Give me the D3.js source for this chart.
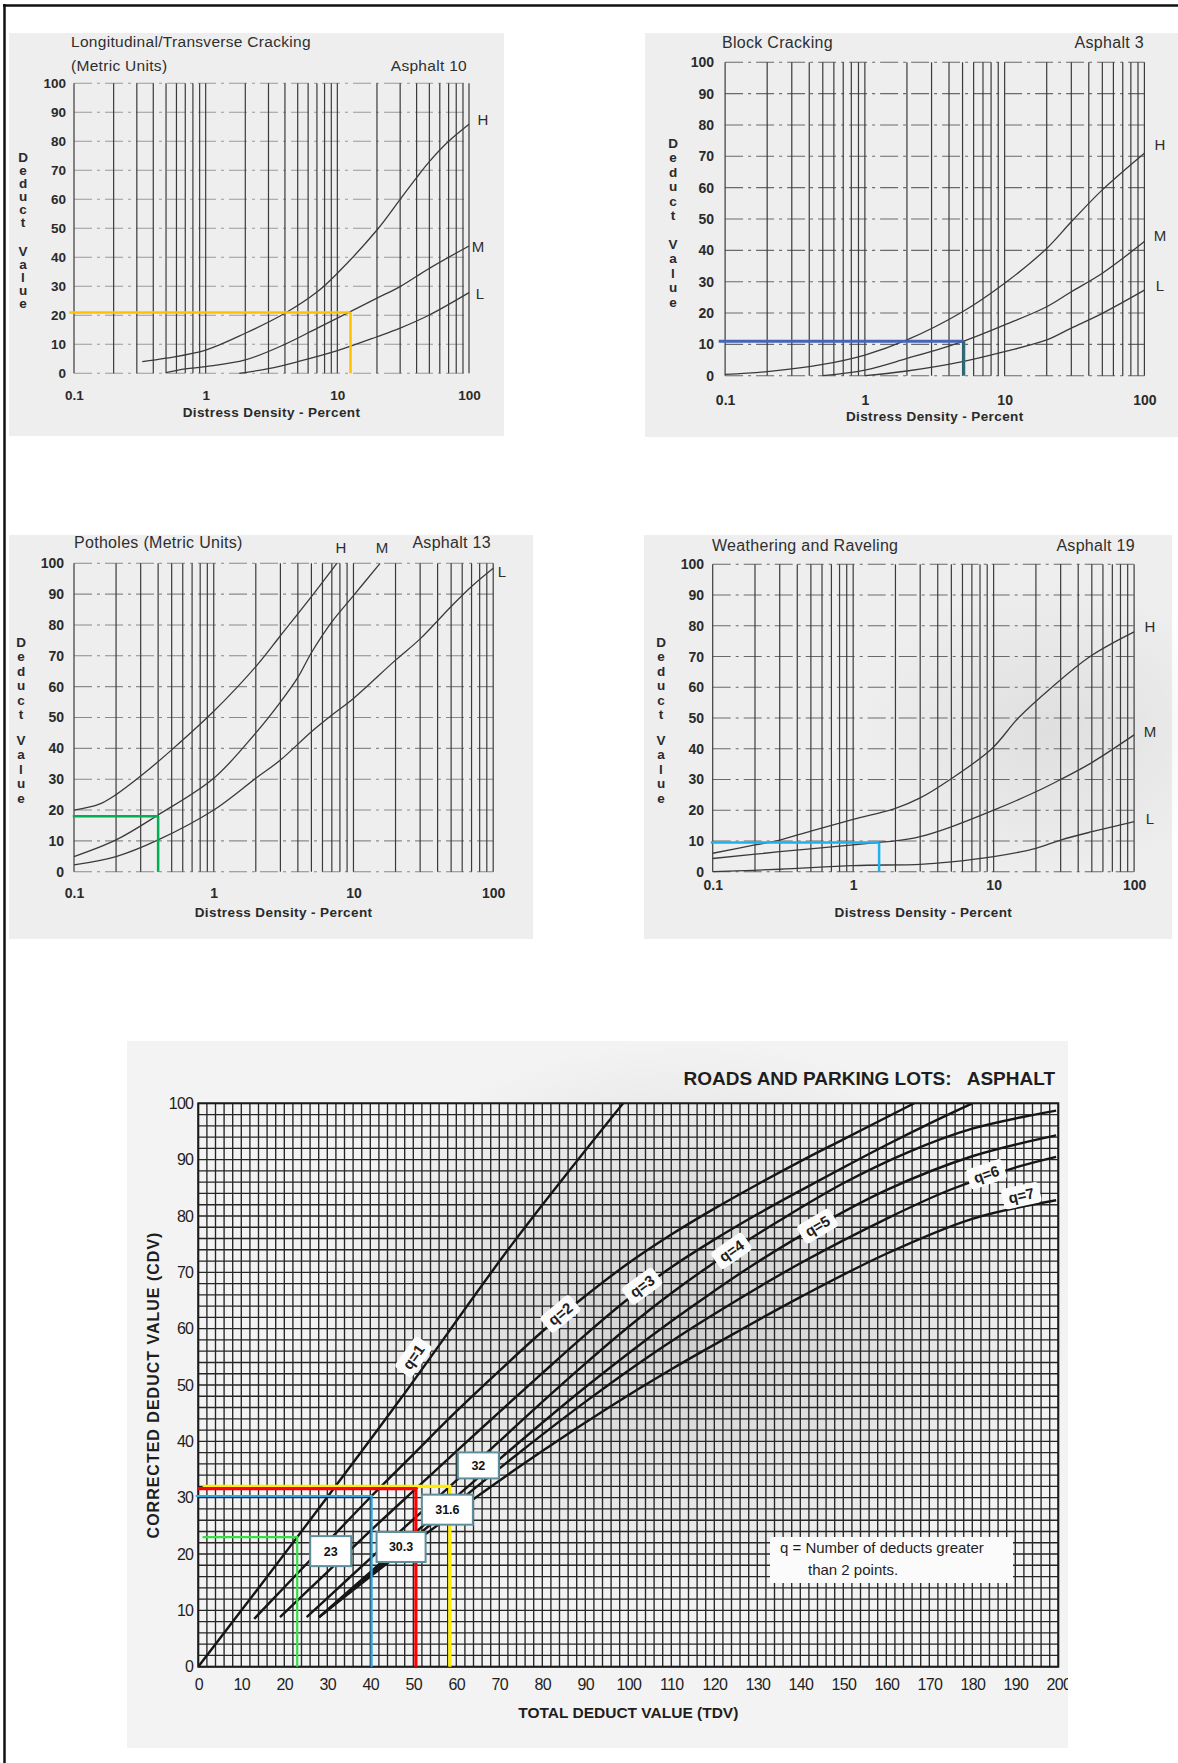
<!DOCTYPE html>
<html>
<head>
<meta charset="utf-8">
<script src="https://cdn.jsdelivr.net/npm/d3@7"></script>
<style>
  html, body { margin: 0; padding: 0; background: #fff; }
  svg { display: block; }
  text { font-family: "Liberation Sans", Arial, Helvetica, sans-serif; }
</style>
</head>
<body>
<svg id="page" width="1178" height="1763"></svg>
<script>
// ---------- shared axis values ----------
const densityTicks = [0.1, 1, 10, 100];
const densityGrid = [0.1,0.2,0.3,0.4,0.5,0.6,0.7,0.8,0.9,1,2,3,4,5,6,7,8,9,10,20,30,40,50,60,70,80,90,100];
const deductTicks = [0,10,20,30,40,50,60,70,80,90,100];

// ---------- Longitudinal/Transverse Cracking (Asphalt 10) ----------
const ltcHigh = [[0.33,4],[0.5,5.2],[1,8],[2,13.8],[4,20.7],[7,28],[10,34.5],[20,49.4],[30,60],[40,67.5],[50,73],[70,80],[100,85.9]];
const ltcMed  = [[0.5,0.2],[0.7,1.5],[1,2.3],[2,4.6],[4,10],[7,15.5],[10,19],[20,25.9],[30,29.9],[50,36.2],[100,43.9]];
const ltcLow  = [[1.8,0],[3,1.6],[5,4],[10,7.8],[20,12.6],[30,15.6],[50,20.1],[100,27.8]];
const ltcReading = [12.6, 21];     // density %, deduct value

// ---------- Block Cracking (Asphalt 3) ----------
const blkHigh = [[0.1,0.4],[0.2,1.3],[0.5,3.6],[1,6.6],[2,11.4],[5,20.4],[10,29.5],[20,40.6],[30,49.1],[50,59.3],[100,71]];
const blkMed  = [[0.5,0],[1,1.8],[2,5.5],[5,10.9],[10,16.2],[20,22],[30,26.8],[50,32.7],[100,42.8]];
const blkLow  = [[1,0],[2,1.5],[5,4.5],[10,7.7],[20,11.4],[30,15.2],[50,19.9],[100,27.3]];
const blkReading = [5.1, 11];

// ---------- Potholes (Asphalt 13) ----------
const potHigh = [[0.1,20],[0.15,21.8],[0.2,25],[0.3,31],[0.5,39.5],[1,52],[2,66.5],[3,76.5],[5,89.2],[7.6,100]];
const potMed  = [[0.1,4.9],[0.2,10.3],[0.4,18.4],[1,30.3],[2,45],[3,55],[4,63],[5,71],[7,81],[10,89.5],[15.5,100]];
const potLow  = [[0.1,2.2],[0.2,4.9],[0.4,10.3],[1,20],[2,30.3],[3,36.2],[5,45.4],[7,50.8],[10,56.2],[20,68.6],[30,75.5],[50,86],[70,92.5],[100,98.4]];
const potReading = [0.4, 18];

// ---------- Weathering and Raveling (Asphalt 19) ----------
const wrHigh = [[0.1,6],[0.2,8.7],[0.3,10.3],[0.5,13.2],[1,17],[2,20.6],[3,24],[4.9,30],[9.7,40],[15,50],[26,60],[48.6,70],[100,78]];
const wrMed  = [[0.1,4.3],[0.3,6.5],[1,8.7],[1.5,9.5],[2,10],[3,11.4],[5,14.6],[10,20],[20,26],[30,30],[50,35.5],[100,44.5]];
const wrLow  = [[0.1,0],[0.3,0.8],[1,2],[3,2.4],[5,3.2],[10,4.9],[20,7.6],[30,10.3],[50,13],[100,16.3]];
const wrReading = [1.53, 9.5];

// ---------- Corrected deduct value curves (roads and parking lots: asphalt) ----------
const tdvTicks = [0,10,20,30,40,50,60,70,80,90,100,110,120,130,140,150,160,170,180,190,200];
const cdvTicks = [0,10,20,30,40,50,60,70,80,90,100];
const cdvQ1 = [[0,0],[23,23],[47,47.5],[73,75],[98.8,100]];
const cdvQ2 = [[13,8.5],[20,14.1],[30,22.1],[40.3,30.3],[50,37.7],[60,45.3],[70,52.5],[80,59.5],[90,65.8],[100,71.6],[110,76.7],[120,81.3],[130,85.6],[140,89.7],[150,93.6],[166.5,100]];
const cdvQ3 = [[19,8.8],[30,16.8],[40,24.1],[50.6,31.6],[60,38.2],[70,45.2],[80,52.1],[90,58.9],[100,65.3],[110,70.9],[120,75.8],[130,80.3],[140,84.5],[150,88.6],[160,92.6],[170,96.4],[180,100]];
const cdvQ4 = [[25.2,8.8],[35,15.7],[45,22.7],[58.5,32],[70,40],[80,47],[90,53.8],[100,60.3],[110,66.3],[124,73.8],[135,79.1],[150,85.8],[165,91.3],[180,95.5],[199.5,98.7]];
const cdvQ5 = [[28.1,8.8],[40,16.8],[50,23.5],[60,30.2],[70,36.8],[80,43.3],[90,49.6],[100,55.6],[110,61.3],[120,66.7],[130,71.8],[144,78.2],[160,84.6],[180,90.6],[199.5,94.3]];
const cdvQ6 = [[28.1,8.8],[40,16.4],[50,22.7],[60,29],[75,38.2],[90,47],[105,55.2],[120,62.6],[140,71.6],[160,79.5],[175,84.7],[190,88.6],[199.5,90.5]];
const cdvQ7 = [[28.1,8.8],[40,16],[50,21.9],[65,30.3],[80,38.3],[95,45.8],[110,52.8],[125,59.3],[140,65.6],[160,73.3],[180,79.5],[199.5,82.8]];
const qNames = ["q=1","q=2","q=3","q=4","q=5","q=6","q=7"];
const qLabelTdv = [52.7, 84.5, 103.5, 124, 144, 183.5, 192];

// iteration readings: total deduct value -> corrected deduct value
const iterTdv = [58.5, 50.6, 40.3, 23];
const iterCdv = [32, 31.6, 30.3, 23];

// ---------- drawing ----------
const svg = d3.select("#page");
const defs = svg.append("defs");
svg.append("rect").attr("width", 1178).attr("height", 1763).attr("fill", "#ffffff");

// page frame (top and left rules)
svg.append("line").attr("x1", 3).attr("x2", 1178).attr("y1", 5.5).attr("y2", 5.5)
  .attr("stroke", "#111").attr("stroke-width", 2.5);
svg.append("line").attr("x1", 4.5).attr("x2", 4.5).attr("y1", 4).attr("y2", 1763)
  .attr("stroke", "#111").attr("stroke-width", 2.5);

function addShade(id, opacity) {
  const gr = defs.append("radialGradient").attr("id", id);
  gr.append("stop").attr("offset", "0").attr("stop-color", "#8f8f8f").attr("stop-opacity", opacity);
  gr.append("stop").attr("offset", "1").attr("stop-color", "#8f8f8f").attr("stop-opacity", 0);
}
addShade("panelShade", 0.16);
addShade("chartShade", 0.36);

const panels = [
  {
    bg: [9, 33, 495, 403], x0: 74, x1: 469, y0: 83.3, y1: 373.3,
    tickRight: 66, xTickY: 395, xTitle: "Distress Density - Percent", xTitleY: 412,
    tickSize: 13.5, titleSize: 15.5, hColor: "#9a9a9a",
    titles: [
      { t: "Longitudinal/Transverse Cracking", x: 71, y: 42, a: "start" },
      { t: "(Metric Units)", x: 71, y: 66, a: "start" },
      { t: "Asphalt 10", x: 467, y: 66, a: "end" }
    ],
    letters: { x: 23, top: 157, bottom: 303, step: 13 },
    curves: [ltcHigh, ltcMed, ltcLow],
    curveLabels: [{ t: "H", x: 483, y: 120 }, { t: "M", x: 478, y: 247 }, { t: "L", x: 480, y: 294 }],
    reading: ltcReading, hStart: 0.092, hColor2: "#ffc000", vColor: "#ffc000", lw: 2.5
  },
  {
    bg: [645, 33, 533, 404], x0: 725.1, x1: 1144.4, y0: 62.3, y1: 375.7,
    tickRight: 714, xTickY: 400, xTitle: "Distress Density  - Percent", xTitleY: 416,
    tickSize: 14, titleSize: 16, hColor: "#6a6a6a",
    titles: [
      { t: "Block Cracking", x: 722, y: 42, a: "start" },
      { t: "Asphalt 3", x: 1144, y: 42, a: "end" }
    ],
    letters: { x: 673, top: 143, bottom: 302, step: 14.5 },
    curves: [blkHigh, blkMed, blkLow],
    curveLabels: [{ t: "H", x: 1160, y: 145 }, { t: "M", x: 1160, y: 236 }, { t: "L", x: 1160, y: 286 }],
    reading: blkReading, hStart: 0.09, hColor2: "#4565bd", vColor: "#2b6c78", lw: 3
  },
  {
    bg: [9, 535, 524, 404], x0: 74, x1: 493.2, y0: 563.3, y1: 871.7,
    tickRight: 64, xTickY: 893, xTitle: "Distress Density - Percent", xTitleY: 912,
    tickSize: 14, titleSize: 16, hColor: "#8a8a8a",
    titles: [
      { t: "Potholes (Metric Units)", x: 74, y: 542, a: "start" },
      { t: "Asphalt 13", x: 491, y: 542, a: "end" }
    ],
    letters: { x: 21, top: 642, bottom: 798, step: 14.5 },
    curves: [potHigh, potMed, potLow],
    curveLabels: [{ t: "H", x: 341, y: 548 }, { t: "M", x: 382, y: 548 }, { t: "L", x: 502, y: 572 }],
    reading: potReading, hStart: 0.098, hColor2: "#00b050", vColor: "#00b050", lw: 2.5
  },
  {
    bg: [644, 535, 528, 404], x0: 712.7, x1: 1134.1, y0: 564.3, y1: 871.7,
    tickRight: 704, xTickY: 885, xTitle: "Distress Density - Percent", xTitleY: 912,
    tickSize: 14, titleSize: 16, hColor: "#6a6a6a",
    titles: [
      { t: "Weathering and Raveling", x: 712, y: 545, a: "start" },
      { t: "Asphalt 19", x: 1135, y: 545, a: "end" }
    ],
    letters: { x: 661, top: 642, bottom: 798, step: 14.5 },
    curves: [wrHigh, wrMed, wrLow],
    curveLabels: [{ t: "H", x: 1150, y: 627 }, { t: "M", x: 1150, y: 732 }, { t: "L", x: 1150, y: 819 }],
    reading: wrReading, hStart: 0.097, hColor2: "#1fb0ee", vColor: "#1fb0ee", lw: 2.5,
    shadeAt: [1050, 730, 190, 150]
  }
];

function drawLogPanel(p) {
  const g = svg.append("g");
  g.append("rect").attr("x", p.bg[0]).attr("y", p.bg[1]).attr("width", p.bg[2]).attr("height", p.bg[3])
    .attr("fill", "#eeeeee");
  if (p.shadeAt) {
    g.append("ellipse").attr("cx", p.shadeAt[0]).attr("cy", p.shadeAt[1])
      .attr("rx", p.shadeAt[2]).attr("ry", p.shadeAt[3]).attr("fill", "url(#panelShade)");
  }
  const x = d3.scaleLog().domain([0.1, 100]).range([p.x0, p.x1]);
  const y = d3.scaleLinear().domain([0, 100]).range([p.y1, p.y0]);

  // dash-dot deduct gridlines
  g.append("g").selectAll("line").data(deductTicks).join("line")
    .attr("x1", p.x0).attr("x2", p.x1).attr("y1", d => y(d)).attr("y2", d => y(d))
    .attr("stroke", p.hColor).attr("stroke-width", 1.1).attr("stroke-dasharray", "18 5 3 5");
  // log density gridlines
  g.append("g").selectAll("line").data(densityGrid).join("line")
    .attr("x1", d => x(d)).attr("x2", d => x(d)).attr("y1", p.y0).attr("y2", p.y1)
    .attr("stroke", "#3b3b3b").attr("stroke-width", 1.2);

  // axes
  const yAxis = g.append("g").attr("transform", `translate(${p.tickRight},0)`)
    .call(d3.axisLeft(y).tickValues(deductTicks).tickSize(0).tickPadding(0));
  yAxis.select(".domain").remove();
  yAxis.selectAll("text").attr("font-size", p.tickSize).attr("font-weight", "bold")
    .attr("fill", "#2a2a2a").attr("font-family", "Liberation Sans, Arial, sans-serif");

  const xAxis = g.append("g").attr("transform", `translate(0,${p.xTickY - p.tickSize * 0.36})`)
    .call(d3.axisBottom(x).tickValues(densityTicks).tickFormat(d => String(d)).tickSize(0).tickPadding(0));
  xAxis.select(".domain").remove();
  xAxis.selectAll("text").attr("font-size", p.tickSize).attr("font-weight", "bold")
    .attr("fill", "#2a2a2a").attr("font-family", "Liberation Sans, Arial, sans-serif");

  g.append("text").attr("x", (p.x0 + p.x1) / 2).attr("y", p.xTitleY).attr("dy", "0.35em")
    .attr("text-anchor", "middle").attr("font-size", 13.5).attr("font-weight", "bold")
    .attr("letter-spacing", 0.4).attr("fill", "#2a2a2a").text(p.xTitle);

  // stacked "Deduct Value" letters
  const L = p.letters;
  const stack = "Deduct".split("").map((c, i) => ({ c, y: L.top + i * L.step }))
    .concat("Value".split("").map((c, i) => ({ c, y: L.bottom - (4 - i) * L.step })));
  g.append("g").selectAll("text").data(stack).join("text")
    .attr("x", L.x).attr("y", d => d.y).attr("dy", "0.35em").attr("text-anchor", "middle")
    .attr("font-size", 13.5).attr("font-weight", "bold").attr("fill", "#2a2a2a").text(d => d.c);

  // titles
  g.append("g").selectAll("text").data(p.titles).join("text")
    .attr("x", d => d.x).attr("y", d => d.y).attr("dy", "0.35em").attr("text-anchor", d => d.a)
    .attr("font-size", p.titleSize).attr("letter-spacing", 0.3).attr("fill", "#2e2e2e").text(d => d.t);

  // severity curves
  const line = d3.line().x(d => x(d[0])).y(d => y(d[1])).curve(d3.curveCatmullRom.alpha(0.5));
  g.append("g").selectAll("path").data(p.curves).join("path")
    .attr("d", line).attr("fill", "none").attr("stroke", "#3a3a3a").attr("stroke-width", 1.3);
  g.append("g").selectAll("text").data(p.curveLabels).join("text")
    .attr("x", d => d.x).attr("y", d => d.y).attr("dy", "0.35em").attr("text-anchor", "middle")
    .attr("font-size", 15).attr("fill", "#2e2e2e").text(d => d.t);

  // deduct reading
  const seg = d3.line().x(d => x(d[0])).y(d => y(d[1]));
  const [rx, ry] = p.reading;
  g.append("path").attr("d", seg([[p.hStart, ry], [rx, ry]]))
    .attr("stroke", p.hColor2).attr("stroke-width", p.lw).attr("fill", "none");
  g.append("path").attr("d", seg([[rx, ry], [rx, 0]]))
    .attr("stroke", p.vColor).attr("stroke-width", p.lw).attr("fill", "none");
}
panels.forEach(drawLogPanel);

// ---------- CDV chart ----------
const cdv = svg.append("g");
defs.append("clipPath").attr("id", "cdvClip").append("rect")
  .attr("x", 127).attr("y", 1041).attr("width", 941).attr("height", 707);
const cdvPanel = cdv.append("g").attr("clip-path", "url(#cdvClip)");
cdvPanel.append("rect").attr("x", 127).attr("y", 1041).attr("width", 941).attr("height", 707).attr("fill", "#f3f3f3");
cdvPanel.append("ellipse").attr("cx", 690).attr("cy", 1320).attr("rx", 380).attr("ry", 280).attr("fill", "url(#chartShade)");

const bx = d3.scaleLinear().domain([0, 200]).range([198.3, 1058.3]);
const by = d3.scaleLinear().domain([0, 100]).range([1666.7, 1103.3]);

cdvPanel.append("g").selectAll("line").data(d3.range(0, 101, 2)).join("line")
  .attr("x1", bx(0)).attr("x2", bx(200)).attr("y1", d => by(d)).attr("y2", d => by(d))
  .attr("stroke", "#262626").attr("stroke-width", 1.35);
cdvPanel.append("g").selectAll("line").data(d3.range(0, 201, 2)).join("line")
  .attr("x1", d => bx(d)).attr("x2", d => bx(d)).attr("y1", by(0)).attr("y2", by(100))
  .attr("stroke", "#262626").attr("stroke-width", 1.35);
cdvPanel.append("rect").attr("x", bx(0)).attr("y", by(100)).attr("width", bx(200) - bx(0))
  .attr("height", by(0) - by(100)).attr("fill", "none").attr("stroke", "#1a1a1a").attr("stroke-width", 2);

const cdvY = cdvPanel.append("g").attr("transform", `translate(${bx(0) - 5},0)`)
  .call(d3.axisLeft(by).tickValues(cdvTicks).tickSize(0).tickPadding(0));
cdvY.select(".domain").remove();
cdvY.selectAll("text").attr("font-size", 16).attr("fill", "#1e1e1e")
  .attr("font-family", "Liberation Sans, Arial, sans-serif").attr("letter-spacing", -0.7);

const cdvX = cdvPanel.append("g").attr("transform", `translate(0,${by(0) + 12})`)
  .call(d3.axisBottom(bx).tickValues(tdvTicks).tickSize(0).tickPadding(0));
cdvX.select(".domain").remove();
cdvX.selectAll("text").attr("font-size", 16).attr("fill", "#1e1e1e")
  .attr("font-family", "Liberation Sans, Arial, sans-serif").attr("letter-spacing", -0.7);

cdvPanel.append("text").attr("x", bx(100)).attr("y", 1713).attr("dy", "0.35em").attr("text-anchor", "middle")
  .attr("font-size", 15.5).attr("font-weight", "bold").attr("fill", "#1e1e1e").text("TOTAL DEDUCT VALUE (TDV)");
cdvPanel.append("text").attr("transform", `translate(153,${by(50)}) rotate(-90)`).attr("dy", "0.35em")
  .attr("text-anchor", "middle").attr("font-size", 16).attr("font-weight", "bold").attr("letter-spacing", 1)
  .attr("fill", "#1e1e1e").text("CORRECTED DEDUCT VALUE (CDV)");
cdvPanel.append("text").attr("x", 1055).attr("y", 1078).attr("dy", "0.35em").attr("text-anchor", "end")
  .attr("font-size", 19).attr("font-weight", "bold").attr("fill", "#1e1e1e").attr("xml:space", "preserve")
  .text("ROADS AND PARKING LOTS:   ASPHALT");

// curves
const cdvCurves = [cdvQ1, cdvQ2, cdvQ3, cdvQ4, cdvQ5, cdvQ6, cdvQ7];
const cdvLine = d3.line().x(d => bx(d[0])).y(d => by(d[1])).curve(d3.curveCatmullRom.alpha(0.5));
defs.append("clipPath").attr("id", "cdvPlotClip").append("rect")
  .attr("x", bx(0)).attr("y", by(100)).attr("width", bx(200) - bx(0)).attr("height", by(0) - by(100));
cdvPanel.append("g").attr("clip-path", "url(#cdvPlotClip)").selectAll("path").data(cdvCurves).join("path")
  .attr("d", cdvLine).attr("fill", "none").attr("stroke", "#161616").attr("stroke-width", 2.4);

// curve tags
function pointOn(data, t) {
  let i = 0;
  while (i < data.length - 2 && data[i + 1][0] < t) i++;
  const a = data[i], b = data[i + 1];
  const k = (t - a[0]) / (b[0] - a[0]);
  const px = bx(a[0] + k * (b[0] - a[0])), py = by(a[1] + k * (b[1] - a[1]));
  const ang = Math.atan2(by(b[1]) - by(a[1]), bx(b[0]) - bx(a[0])) * 180 / Math.PI;
  return [px, py, ang];
}
const tagShift = [-14, -2, -2, 0, 0, -3, -12];
cdvCurves.forEach((c, i) => {
  const [px, py, ang] = pointOn(c, qLabelTdv[i]);
  const tg = cdvPanel.append("g").attr("transform", `translate(${px},${py}) rotate(${ang}) translate(0,${tagShift[i]})`);
  tg.append("rect").attr("x", -19).attr("y", -10.5).attr("width", 38).attr("height", 21).attr("rx", 4).attr("fill", "#fbfbfb");
  tg.append("text").attr("text-anchor", "middle").attr("dy", "0.35em").attr("font-size", 15)
    .attr("font-weight", "bold").attr("fill", "#1e1e1e").text(qNames[i]);
});

// note box
cdvPanel.append("rect").attr("x", 770).attr("y", 1537).attr("width", 243).attr("height", 46).attr("fill", "#fbfbfb");
cdvPanel.append("text").attr("x", 780).attr("y", 1548).attr("dy", "0.35em").attr("font-size", 15)
  .attr("fill", "#1e1e1e").attr("xml:space", "preserve").text("q = Number of deducts greater");
cdvPanel.append("text").attr("x", 808).attr("y", 1570).attr("dy", "0.35em").attr("font-size", 15)
  .attr("fill", "#1e1e1e").text("than 2 points.");

// iteration readings
const iterStyle = [
  { color: "#ffee00", w: 3.2, start: 1, box: [8, -34, 41, 26] },
  { color: "#ff0000", w: 3.2, start: -0.2, box: [6, 6, 51, 30] },
  { color: "#2fa9e6", w: 2.2, start: -0.6, box: [5, 36, 49, 30] },
  { color: "#35e045", w: 2.2, start: 1, box: [13, -1, 41, 30] }
];
const segLine = d3.line().x(d => bx(d[0])).y(d => by(d[1]));
iterTdv.forEach((t, i) => {
  const s = iterStyle[i], v = iterCdv[i];
  cdvPanel.append("path").attr("d", segLine([[s.start, v], [t, v], [t, 0]]))
    .attr("fill", "none").attr("stroke", s.color).attr("stroke-width", s.w);
});
iterTdv.forEach((t, i) => {
  const s = iterStyle[i], v = iterCdv[i];
  const x0 = bx(t) + s.box[0], y0 = by(v) + s.box[1];
  cdvPanel.append("rect").attr("x", x0).attr("y", y0).attr("width", s.box[2]).attr("height", s.box[3])
    .attr("fill", "#ffffff").attr("stroke", "#5f8f9c").attr("stroke-width", 2);
  cdvPanel.append("text").attr("x", x0 + s.box[2] / 2).attr("y", y0 + s.box[3] / 2).attr("dy", "0.36em")
    .attr("text-anchor", "middle").attr("font-family", "Lato, 'Open Sans', sans-serif").attr("font-weight", "bold")
    .attr("font-size", 12.5).attr("fill", "#111").text(String(v));
});
</script>
</body>
</html>
